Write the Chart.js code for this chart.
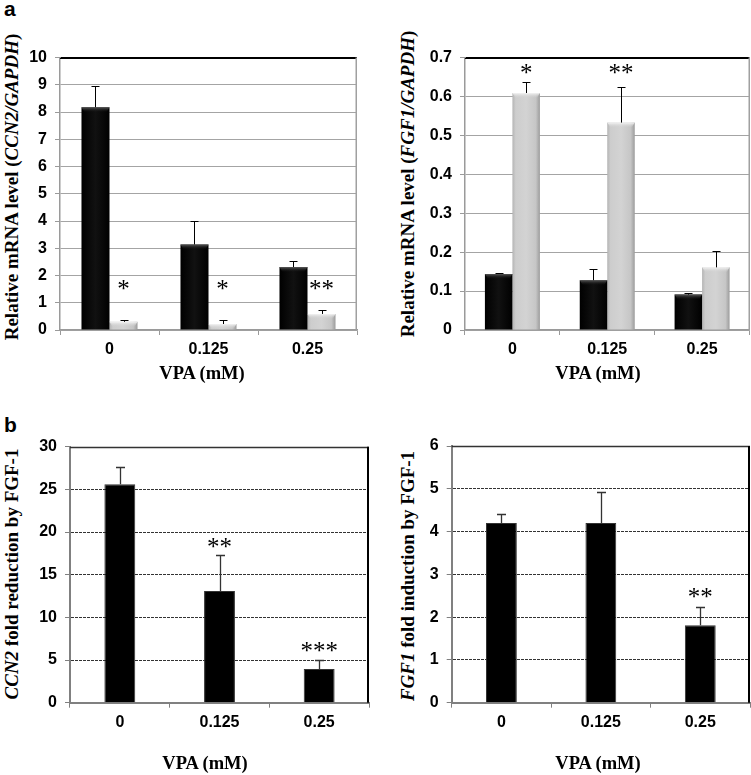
<!DOCTYPE html>
<html>
<head>
<meta charset="utf-8">
<script src="https://cdn.jsdelivr.net/npm/chart.js@4.4.1/dist/chart.umd.min.js"></script>
<style>
  html, body { margin: 0; padding: 0; background: #fff; }
  #page { position: relative; width: 751px; height: 775px; overflow: hidden; }
  .panel { position: absolute; }
  .ytitle, .xtitle { position: absolute; font-family: "Liberation Serif", "Times New Roman", serif; font-weight: bold; white-space: nowrap; color: #000; line-height: 1; }
  .ytitle { font-size: 19px; transform: translate(-50%, -50%) rotate(-90deg); }
  .xtitle { font-size: 18.5px; transform: translate(-50%, -50%); }
  .plabel { position: absolute; font-family: "Liberation Sans", Arial, sans-serif; font-weight: bold; font-size: 21px; line-height: 1; }
</style>
</head>
<body>
<div id="page">
  <div class="plabel" style="left:4px; top:-2px;">a</div>
  <div class="plabel" style="left:4px; top:414px;">b</div>

  <div class="panel" style="left:28px; top:40px; width:337px; height:350px;"><canvas id="c1"></canvas></div>
  <div class="panel" style="left:430px; top:40px; width:321px; height:350px;"><canvas id="c2"></canvas></div>
  <div class="panel" style="left:30px; top:395px; width:345px; height:380px;"><canvas id="c3"></canvas></div>
  <div class="panel" style="left:420px; top:395px; width:331px; height:380px;"><canvas id="c4"></canvas></div>

  <div class="ytitle" style="left:11px; top:187px;">Relative mRNA level (<i>CCN2/GAPDH</i>)</div>
  <div class="ytitle" style="left:407px; top:184px;">Relative mRNA level (<i>FGF1/GAPDH</i>)</div>
  <div class="ytitle" style="left:11px; top:574px;"><i>CCN2</i> fold reduction by FGF-1</div>
  <div class="ytitle" style="left:407px; top:576px;"><i>FGF1</i> fold induction by FGF-1</div>

  <div class="xtitle" style="left:202px; top:373px;">VPA (mM)</div>
  <div class="xtitle" style="left:598px; top:373px;">VPA (mM)</div>
  <div class="xtitle" style="left:205px; top:763px;">VPA (mM)</div>
  <div class="xtitle" style="left:598px; top:763px;">VPA (mM)</div>
</div>
<script>
// ---------- data ----------
const categories = ['0', '0.125', '0.25'];

// panel a, left: CCN2/GAPDH
const ccn2Control = [8.18, 3.14, 2.31];
const ccn2ControlErr = [0.78, 0.85, 0.24];
const ccn2Fgf1 = [0.30, 0.22, 0.59];
const ccn2Fgf1Err = [0.06, 0.15, 0.15];
const ccn2Stars = ['*', '*', '**'];
const ccn2StarLevel = [1.65, 1.65, 1.65];

// panel a, right: FGF1/GAPDH
const fgf1Control = [0.144, 0.128, 0.091];
const fgf1ControlErr = [0.003, 0.028, 0.004];
const fgf1Fgf1 = [0.609, 0.533, 0.161];
const fgf1Fgf1Err = [0.029, 0.092, 0.043];
const fgf1Stars = ['*', '**', ''];
const fgf1StarLevel = [0.67, 0.67, null];

// panel b, left: CCN2 fold reduction
const ccn2Reduction = [25.6, 13.1, 3.95];
const ccn2ReductionErr = [2.0, 4.2, 1.0];
const ccn2RedStars = ['', '**', '***'];
const ccn2RedStarLevel = [null, 18.75, 6.56];

// panel b, right: FGF1 fold induction
const fgf1Induction = [4.2, 4.2, 1.81];
const fgf1InductionErr = [0.2, 0.72, 0.43];
const fgf1IndStars = ['', '', '**'];
const fgf1IndStarLevel = [null, null, 2.56];

// axis ranges
const yRanges = [
  {max: 10, step: 1},
  {max: 0.7, step: 0.1},
  {max: 30, step: 5},
  {max: 6, step: 1}
];

// ---------- plugins ----------
const shadePlugin = {
  id: 'shade',
  beforeDatasetsDraw(chart, args, opts) {
    if (!opts.styles) return;
    const ctx = chart.ctx;
    opts.styles.forEach((st, di) => {
      if (!st) return;
      chart.getDatasetMeta(di).data.forEach((bar) => {
        const l = bar.x - bar.width / 2, r = bar.x + bar.width / 2;
        const g = ctx.createLinearGradient(l, 0, r, 0);
        st.forEach(([p, c]) => g.addColorStop(p, c));
        bar.options = Object.assign({}, bar.options, { backgroundColor: g });
      });
    });
  },
  afterDatasetsDraw(chart, args, opts) {
    if (!opts.bevel) return;
    const ctx = chart.ctx;
    opts.bevel.forEach((bv, di) => {
      if (!bv) return;
      chart.getDatasetMeta(di).data.forEach((bar) => {
        const l = bar.x - bar.width / 2, w = bar.width, t = bar.y;
        const g = ctx.createLinearGradient(0, t, 0, t + 5);
        g.addColorStop(0, bv[0]);
        g.addColorStop(1, bv[1]);
        ctx.save();
        ctx.fillStyle = g;
        ctx.beginPath();
        ctx.moveTo(l, t); ctx.lineTo(l + w, t); ctx.lineTo(l + w - 3, t + 5); ctx.lineTo(l + 3, t + 5); ctx.closePath();
        ctx.fill();
        ctx.restore();
      });
    });
  }
};

const errorBarPlugin = {
  id: 'errorBars',
  afterDatasetsDraw(chart, args, opts) {
    const ctx = chart.ctx, y = chart.scales.y;
    (opts.errors || []).forEach((errs, di) => {
      if (!errs) return;
      const meta = chart.getDatasetMeta(di);
      meta.data.forEach((bar, i) => {
        const v = chart.data.datasets[di].data[i];
        const top = Math.round(y.getPixelForValue(v + errs[i])) + 0.5;
        const x = Math.round(bar.x) + 0.5;
        ctx.save();
        ctx.strokeStyle = opts.color || '#000';
        ctx.lineWidth = opts.width || 1;
        ctx.beginPath();
        ctx.moveTo(x, bar.y);
        ctx.lineTo(x, top);
        ctx.moveTo(x - opts.cap / 2, top);
        ctx.lineTo(x + opts.cap / 2, top);
        ctx.stroke();
        ctx.restore();
      });
    });
  }
};

const starPlugin = {
  id: 'stars',
  afterDatasetsDraw(chart, args, opts) {
    if (!opts.labels) return;
    const ctx = chart.ctx, y = chart.scales.y;
    const meta = chart.getDatasetMeta(opts.datasetIndex);
    ctx.save();
    ctx.font = '25px "Liberation Serif", "Times New Roman", serif';
    ctx.fillStyle = '#000';
    ctx.textAlign = 'center';
    ctx.textBaseline = 'alphabetic';
    opts.labels.forEach((lab, i) => {
      if (!lab || opts.levels[i] == null) return;
      const x = meta.data[i].x;
      const py = y.getPixelForValue(opts.levels[i]);
      ctx.fillText(lab, x, py + 12);
    });
    ctx.restore();
  }
};

const framePlugin = {
  id: 'frame',
  afterDraw(chart, args, opts) {
    const ctx = chart.ctx, a = chart.chartArea;
    ctx.save();
    if (opts.topColor) {
      ctx.strokeStyle = opts.topColor; ctx.lineWidth = opts.topWidth || 1;
      ctx.beginPath(); ctx.moveTo(a.left, Math.round(a.top) + 0.5); ctx.lineTo(a.right, Math.round(a.top) + 0.5); ctx.stroke();
    }
    if (opts.rightColor) {
      ctx.strokeStyle = opts.rightColor; ctx.lineWidth = opts.rightWidth || 1;
      const rx = Math.round(a.right) - (opts.rightWidth || 1) / 2;
      ctx.beginPath(); ctx.moveTo(rx, a.top); ctx.lineTo(rx, a.bottom); ctx.stroke();
    }
    ctx.restore();
  }
};

Chart.defaults.font.family = '"Liberation Sans", Arial, sans-serif';
Chart.defaults.font.size = 16;
Chart.defaults.font.weight = 'bold';
Chart.defaults.color = '#000';
Chart.defaults.animation = false;

function makeChart(id, datasets, range, opt) {
  return new Chart(document.getElementById(id), {
    type: 'bar',
    data: { labels: categories, datasets: datasets },
    plugins: [shadePlugin, errorBarPlugin, starPlugin, framePlugin],
    options: {
      responsive: true,
      maintainAspectRatio: false,
      animation: false,
      layout: { padding: { left: 0, right: opt.padRight, top: opt.padTop, bottom: 0 } },
      datasets: { bar: { categoryPercentage: opt.catPct, barPercentage: 1.0 } },
      plugins: {
        legend: { display: false },
        tooltip: { enabled: false },
        errorBars: opt.errorBars,
        stars: opt.stars,
        frame: opt.frame,
        shade: opt.shade || {}
      },
      scales: {
        x: {
          offset: true,
          grid: { display: true, drawOnChartArea: false, drawTicks: true, tickLength: 5, color: opt.axisColor, offset: true },
          border: { display: true, color: opt.axisColor, width: opt.axisWidth },
          ticks: { padding: opt.xPad, font: { size: 16, weight: 'bold' } },
          afterFit(s) { s.height = opt.xHeight; }
        },
        y: {
          min: 0, max: range.max,
          ticks: { stepSize: range.step, padding: 8, font: { size: 16, weight: 'bold' } },
          grid: {
            color: (c) => (c.tick && c.tick.value >= range.max - 1e-9) ? opt.topColor : opt.gridColor,
            lineWidth: 1,
            tickLength: 5,
            tickColor: opt.axisColor
          },
          border: { display: true, color: opt.axisColor, width: opt.axisWidth, dash: opt.gridDash },
          afterFit(s) { s.width = opt.yWidth; }
        }
      }
    }
  });
}

const grayStops = [[0, '#b4b4b4'], [0.12, '#cdcdcd'], [0.5, '#d3d3d3'], [0.85, '#c6c6c6'], [1, '#9c9c9c']];
const blackStops = [[0, '#000'], [0.5, '#111'], [1, '#000']];
const shadeTop = { styles: [blackStops, grayStops], bevel: [['#5a5a5a', 'rgba(20,20,20,0)'], ['#f4f4f4', 'rgba(210,210,210,0)']] };

makeChart('c1', [
  { data: ccn2Control, backgroundColor: () => '#0b0b0b', borderWidth: 0 },
  { data: ccn2Fgf1, backgroundColor: () => '#c4c4c4', borderWidth: 0 }
], yRanges[0], {
  padRight: 8, padTop: 12, catPct: 0.566, xHeight: 60, yWidth: 32, xPad: 5,
  axisColor: '#9a9a9a', axisWidth: 1.5, gridColor: '#a4a4a4', topColor: '#000', gridDash: [],
  errorBars: { errors: [ccn2ControlErr, ccn2Fgf1Err], cap: 8, color: '#000', width: 1 },
  stars: { datasetIndex: 1, labels: ccn2Stars, levels: ccn2StarLevel },
  frame: { topColor: '#000', rightColor: '#a0a0a0', rightWidth: 1.5 },
  shade: shadeTop
});

makeChart('c2', [
  { data: fgf1Control, backgroundColor: () => '#0b0b0b', borderWidth: 0 },
  { data: fgf1Fgf1, backgroundColor: () => '#c4c4c4', borderWidth: 0 }
], yRanges[1], {
  padRight: 1.5, padTop: 12, catPct: 0.58, xHeight: 60, yWidth: 35, xPad: 5,
  axisColor: '#9a9a9a', axisWidth: 1.5, gridColor: '#a4a4a4', topColor: '#000', gridDash: [],
  errorBars: { errors: [fgf1ControlErr, fgf1Fgf1Err], cap: 8, color: '#000', width: 1 },
  stars: { datasetIndex: 1, labels: fgf1Stars, levels: fgf1StarLevel },
  frame: { topColor: '#000', rightColor: '#a0a0a0', rightWidth: 1.5 },
  shade: shadeTop
});

makeChart('c3', [
  { data: ccn2Reduction, backgroundColor: '#000', borderColor: '#333', borderWidth: 1 }
], yRanges[2], {
  padRight: 6, padTop: 51.7, catPct: 0.31, xHeight: 72.3, yWidth: 40, xPad: 5.6,
  axisColor: '#808080', axisWidth: 2, gridColor: '#333', topColor: 'rgba(0,0,0,0)', gridDash: [3, 1],
  errorBars: { errors: [ccn2ReductionErr], cap: 9, color: '#333', width: 1.3 },
  stars: { datasetIndex: 0, labels: ccn2RedStars, levels: ccn2RedStarLevel },
  frame: { topColor: '#333', topWidth: 1.5, rightColor: '#000', rightWidth: 2 }
});

makeChart('c4', [
  { data: fgf1Induction, backgroundColor: '#000', borderColor: '#333', borderWidth: 1 }
], yRanges[3], {
  padRight: 1, padTop: 51, catPct: 0.31, xHeight: 72.3, yWidth: 31.7, xPad: 5.6,
  axisColor: '#808080', axisWidth: 2, gridColor: '#333', topColor: 'rgba(0,0,0,0)', gridDash: [3, 1],
  errorBars: { errors: [fgf1InductionErr], cap: 9, color: '#333', width: 1.3 },
  stars: { datasetIndex: 0, labels: fgf1IndStars, levels: fgf1IndStarLevel },
  frame: { topColor: '#333', topWidth: 1.5, rightColor: '#000', rightWidth: 2 }
});
</script>
</body>
</html>
